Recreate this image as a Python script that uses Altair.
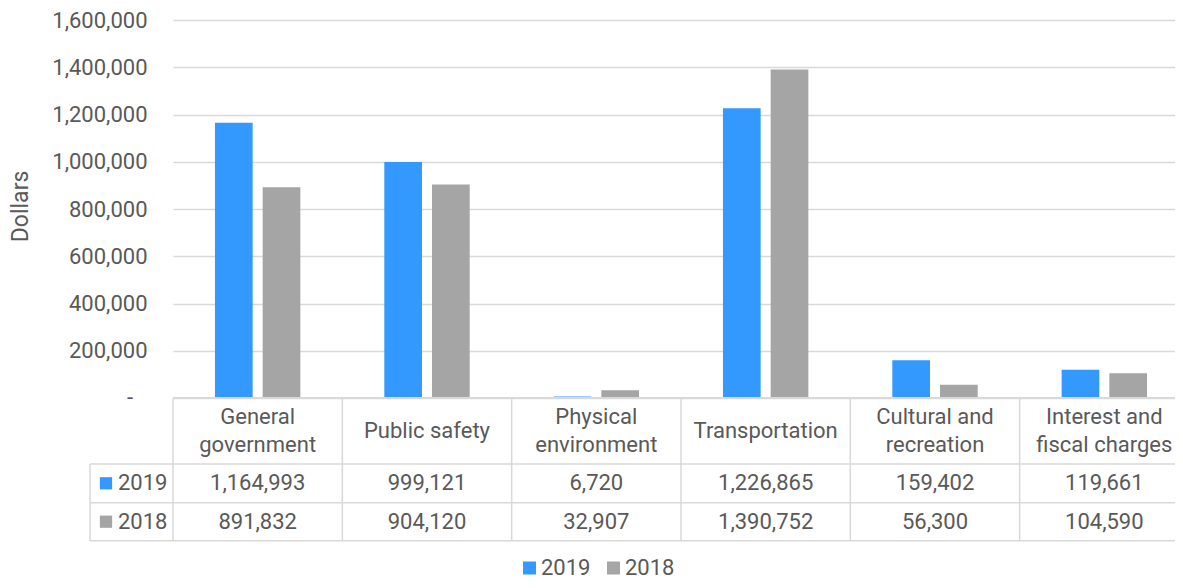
import altair as alt
import pandas as pd

# ---------------- data ----------------
categories = ["General government", "Public safety", "Physical environment",
              "Transportation", "Cultural and recreation", "Interest and fiscal charges"]
header_labels = ["General\ngovernment", "Public safety", "Physical\nenvironment",
                 "Transportation", "Cultural and\nrecreation", "Interest and\nfiscal charges"]
series = ["2019", "2018"]
values_2019 = [1164993, 999121, 6720, 1226865, 159402, 119661]
values_2018 = [891832, 904120, 32907, 1390752, 56300, 104590]
y_ticks = [0, 200000, 400000, 600000, 800000, 1000000, 1200000, 1400000, 1600000]
colors = ["#3399FF", "#A5A5A5"]

rows = []
for s, vals in zip(series, [values_2019, values_2018]):
    for c, v in zip(categories, vals):
        rows.append({"category": c, "series": s, "value": v})
df = pd.DataFrame(rows)
hdr = pd.DataFrame({"category": categories, "label": header_labels})
hdr["two"] = hdr["label"].str.contains("\n")

# ---------------- layout constants ----------------
W, H = 1016, 378
HEAD_BOTTOM = 444
ROW1_BOTTOM = 482.7
ROW2_BOTTOM = 520.7
LEFT_COL = -83
ROW_CENTERS = {"2019": 463.3, "2018": 501.7}
GRID = "#D9D9D9"
TXT = "#595959"
FONT = "Roboto"
FS = 22

one = alt.Data(values=[{"k": 1}])


def xenc(**kw):
    return alt.X("category:N",
                 scale=alt.Scale(domain=categories, paddingInner=0, paddingOuter=0),
                 axis=None, **kw)


bars = alt.Chart(df).mark_bar().encode(
    x=xenc(),
    xOffset=alt.XOffset("series:N", sort=series,
                        scale=alt.Scale(domain=series, paddingInner=0.21, paddingOuter=0.88)),
    y=alt.Y("value:Q",
            scale=alt.Scale(domain=[0, 1600000], nice=False, zero=True),
            axis=alt.Axis(values=y_ticks, title="Dollars",
                          labelExpr="datum.value === 0 ? '' : format(datum.value, ',')",
                          grid=True, gridColor=GRID, gridWidth=1.5,
                          domain=False, ticks=False, tickSize=0, labelPadding=26,
                          labelFont=FONT, labelFontSize=FS, labelColor=TXT,
                          titleFont=FONT, titleFontSize=23, titleColor=TXT,
                          titleFontWeight="normal", titleAngle=270,
                          titleX=-146, titleY=186, titleAlign="center",
                          titleBaseline="alphabetic")),
    color=alt.Color("series:N", scale=alt.Scale(domain=series, range=colors), legend=None),
)

# accounting-style dash for the zero label
zero_dash = alt.Chart(one).mark_text(
    font=FONT, fontSize=FS, color=TXT, align="right", baseline="middle", text="-"
).encode(x=alt.value(-40), y=alt.value(H))

header_two = alt.Chart(hdr[hdr.two]).mark_text(
    font=FONT, fontSize=FS, color=TXT, lineBreak="\n", lineHeight=28,
    baseline="middle", align="center"
).encode(x=xenc(), y=alt.value(397), text="label:N")
header_one = alt.Chart(hdr[~hdr.two]).mark_text(
    font=FONT, fontSize=FS, color=TXT, baseline="middle", align="center"
).encode(x=xenc(), y=alt.value(411), text="label:N")

layers = [bars, zero_dash, header_two, header_one]

for s, col in zip(series, colors):
    layers.append(
        alt.Chart(df[df.series == s]).mark_text(
            font=FONT, fontSize=FS, color=TXT, baseline="middle", align="center"
        ).encode(x=xenc(), y=alt.value(ROW_CENTERS[s]),
                 text=alt.Text("value:Q", format=","))
    )
    # row key swatch + label in the left column
    layers.append(
        alt.Chart(one).mark_square(size=150, color=col, opacity=1).encode(
            x=alt.value(-67), y=alt.value(ROW_CENTERS[s]))
    )
    layers.append(
        alt.Chart(one).mark_text(font=FONT, fontSize=FS, color=TXT, align="left",
                                 baseline="middle", text=s).encode(
            x=alt.value(-55), y=alt.value(ROW_CENTERS[s]))
    )

# table grid lines
for y in [HEAD_BOTTOM, ROW1_BOTTOM, ROW2_BOTTOM]:
    layers.append(alt.Chart(one).mark_rule(color=GRID, strokeWidth=1.5).encode(
        x=alt.value(LEFT_COL), x2=alt.value(W), y=alt.value(y)))
layers.append(alt.Chart(one).mark_rule(color=GRID, strokeWidth=2).encode(
    x=alt.value(0), x2=alt.value(W), y=alt.value(H)))
layers.append(alt.Chart(hdr).mark_rule(color=GRID, strokeWidth=1.5).encode(
    x=xenc(bandPosition=0), y=alt.value(H), y2=alt.value(ROW2_BOTTOM)))
layers.append(alt.Chart(one).mark_rule(color=GRID, strokeWidth=1.5).encode(
    x=alt.value(W), y=alt.value(H), y2=alt.value(ROW2_BOTTOM)))
layers.append(alt.Chart(one).mark_rule(color=GRID, strokeWidth=1.5).encode(
    x=alt.value(LEFT_COL), y=alt.value(HEAD_BOTTOM), y2=alt.value(ROW2_BOTTOM)))

# bottom legend
LEG_Y = 548
leg_x = {"2019": 356.5, "2018": 440.5}
for s, col in zip(series, colors):
    layers.append(alt.Chart(one).mark_square(size=169, color=col, opacity=1).encode(
        x=alt.value(leg_x[s]), y=alt.value(LEG_Y)))
    layers.append(alt.Chart(one).mark_text(font=FONT, fontSize=FS, color=TXT, align="left",
                                           baseline="middle", text=s).encode(
        x=alt.value(leg_x[s] + 11.5), y=alt.value(LEG_Y)))

chart = alt.layer(*layers).properties(
    width=W, height=H,
    autosize=alt.AutoSizeParams(type="none"),
    padding={"left": 165, "top": 12, "right": -14, "bottom": 182},
).configure_view(stroke=None)

chart.save("out.html", embed_options={"renderer": "svg", "actions": False})
